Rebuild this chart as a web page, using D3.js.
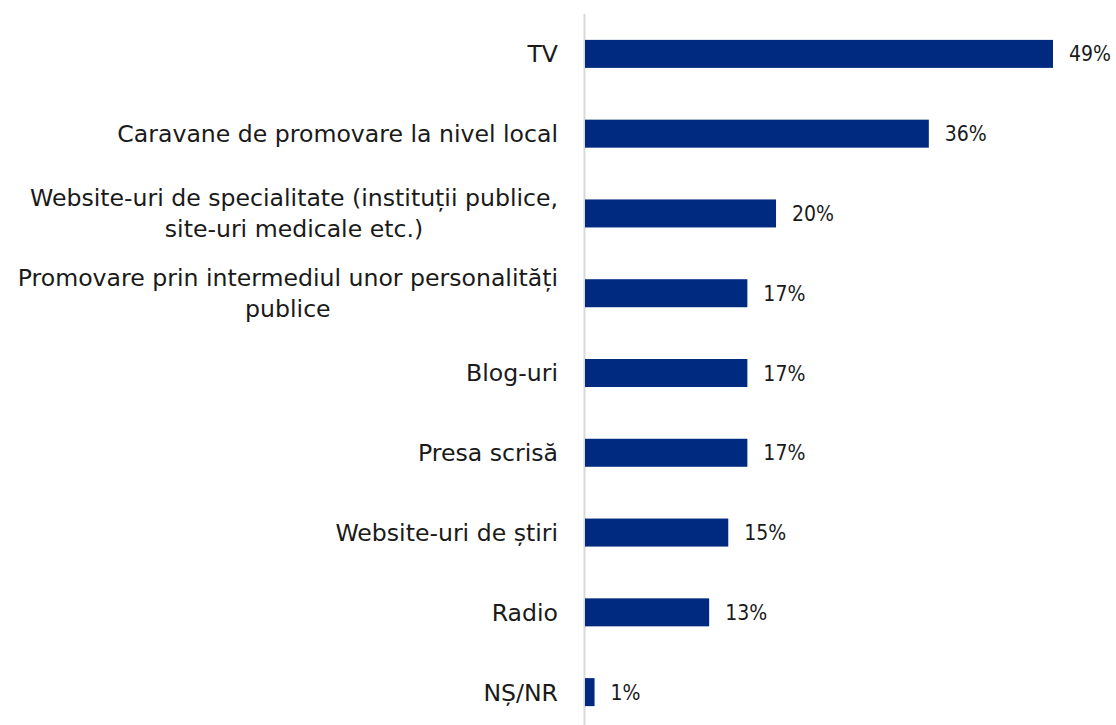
<!DOCTYPE html>
<html>
<head>
<meta charset="utf-8">
<script src="https://cdn.jsdelivr.net/npm/d3@7"></script>
<style>
  body { margin: 0; background: #fff; }
  text { fill: #1a1a1a; }
  .cat { font-family: "DejaVu Sans", sans-serif; font-size: 23.6px; }
  .val { font-family: "DejaVu Sans Condensed", sans-serif; font-size: 21px; }
</style>
</head>
<body>
<svg width="1116" height="725"></svg>
<script>
const width = 1116;
const height = 725;

// categories (each entry = lines of the label) and values in %
const categories = [
  ["TV"],
  ["Caravane de promovare la nivel local"],
  ["Website-uri de specialitate (instituții publice,", "site-uri medicale etc.)"],
  ["Promovare prin intermediul unor personalități", "publice"],
  ["Blog-uri"],
  ["Presa scrisă"],
  ["Website-uri de știri"],
  ["Radio"],
  ["NȘ/NR"]
];
const values = [49, 36, 20, 17, 17, 17, 15, 13, 1];

const x0 = 585;
const labelRight = 558;

const x = d3.scaleLinear()
  .domain([0, 49])
  .range([x0, 1053]);

const y = d3.scaleBand()
  .domain(d3.range(values.length))
  .range([14, 732])
  .paddingInner(0.649)
  .paddingOuter(0.3245);

const svg = d3.select("svg");

// vertical axis line
svg.append("line")
  .attr("x1", x0 - 0.5).attr("x2", x0 - 0.5)
  .attr("y1", 14).attr("y2", height)
  .attr("stroke", "#d9d9d9")
  .attr("stroke-width", 2);

svg.append("g")
  .selectAll("rect")
  .data(values)
  .join("rect")
  .attr("x", x0)
  .attr("y", (d, i) => y(i))
  .attr("width", d => x(d) - x0)
  .attr("height", y.bandwidth())
  .attr("fill", "#002a7f");

// value labels
svg.append("g")
  .selectAll("text")
  .data(values)
  .join("text")
  .attr("class", "val")
  .attr("x", d => x(d) + 16)
  .attr("y", (d, i) => y(i) + y.bandwidth() / 2)
  .attr("dy", "0.36em")
  .text(d => d + "%");

// category labels, wrapped lines centred on each other, block right aligned
const lineH = 31;
svg.append("g")
  .selectAll("text")
  .data(categories)
  .join("text")
  .attr("class", "cat")
  .attr("text-anchor", "middle")
  .each(function(lines, i) {
    const cy = y(i) + y.bandwidth() / 2;
    const t = d3.select(this);
    const spans = lines.map((s, k) => t.append("tspan")
      .attr("y", cy + (k - (lines.length - 1) / 2) * lineH)
      .attr("dy", "0.36em")
      .text(s));
    const w = d3.max(spans, sp => sp.node().getComputedTextLength());
    spans.forEach(sp => sp.attr("x", labelRight - w / 2));
  });
</script>
</body>
</html>
